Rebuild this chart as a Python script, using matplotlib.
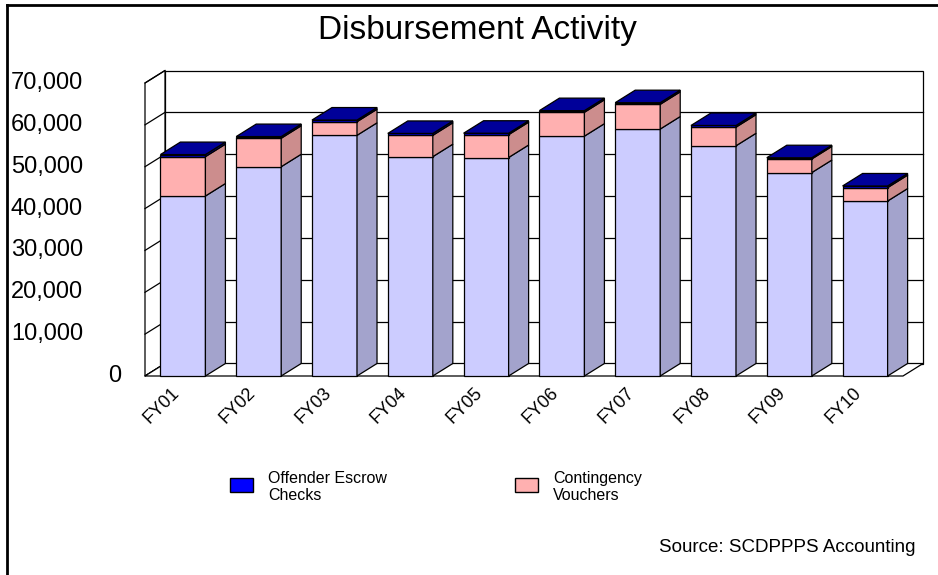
import matplotlib.pyplot as plt
from matplotlib.patches import Polygon, Rectangle
from matplotlib.lines import Line2D

plt.rcParams['font.family'] = ['Liberation Sans', 'DejaVu Sans']

years = ['FY01', 'FY02', 'FY03', 'FY04', 'FY05', 'FY06', 'FY07', 'FY08', 'FY09', 'FY10']
other = [43000, 50000, 57500, 52400, 52200, 57300, 59000, 55000, 48600, 41800]
contingency = [9400, 6800, 3250, 5100, 5450, 5700, 5900, 4450, 3250, 3200]
escrow = [500, 400, 400, 450, 350, 400, 400, 400, 300, 400]
yticks = [0, 10000, 20000, 30000, 40000, 50000, 60000, 70000]

W, H = 938, 575
fig = plt.figure(figsize=(W / 100, H / 100), dpi=100)
ax = fig.add_axes([145 / W, (H - 376) / H, 758 / W, 293 / H])
ax.set_xlim(-0.5, len(years) - 0.5)
ax.set_ylim(0, 70000)
ax.axis('off')

# fake 3d depth, in data units
DX = 20 / 75.8
DY = 12.5 / 293 * 70000
hw = 0.297
x0, x1 = -0.5, len(years) - 0.5
top = yticks[-1]

# back wall + gridlines
ax.add_patch(Rectangle((x0 + DX, DY), x1 - x0, top, fc='white', ec='black', lw=0.9, clip_on=False, zorder=1))
for v in yticks[1:-1]:
    ax.plot([x0 + DX, x1 + DX], [v + DY, v + DY], color='black', lw=0.9, clip_on=False, zorder=1.5)
# left wall
ax.add_patch(Polygon([(x0, 0), (x0 + DX, DY), (x0 + DX, top + DY), (x0, top)],
                     closed=True, fc='white', ec='black', lw=0.9, clip_on=False, zorder=1.6))
for v in yticks:
    ax.plot([x0, x0 + DX], [v, v + DY], color='black', lw=0.9, clip_on=False, zorder=1.7)
# floor
ax.add_patch(Polygon([(x0, 0), (x1, 0), (x1 + DX, DY), (x0 + DX, DY)],
                     closed=True, fc='white', ec='black', lw=0.9, clip_on=False, zorder=1.8))

series = [
    (other, '#CCCCFF', '#A3A3CC'),
    (contingency, '#FFB0B0', '#CC8D8D'),
    (escrow, '#0000CC', '#000099'),
]

for i in range(len(years)):
    bottom = 0
    for vals, front, side in series:
        v = vals[i]
        ax.add_patch(Rectangle((i - hw, bottom), 2 * hw, v, fc=front, ec='black', lw=0.9,
                               clip_on=False, zorder=3))
        ax.add_patch(Polygon([(i + hw, bottom), (i + hw + DX, bottom + DY),
                              (i + hw + DX, bottom + v + DY), (i + hw, bottom + v)],
                             closed=True, fc=side, ec='black', lw=0.9, clip_on=False, zorder=3))
        bottom += v
    ax.add_patch(Polygon([(i - hw, bottom), (i + hw, bottom), (i + hw + DX, bottom + DY),
                          (i - hw + DX, bottom + DY)],
                         closed=True, fc='#000099', ec='black', lw=0.9, clip_on=False, zorder=3))
    ax.text(i - 0.16, -2000, years[i], rotation=45, ha='right', va='top',
            fontsize=13, rotation_mode='anchor', clip_on=False)

for v in yticks:
    if v == 0:
        ax.text(-0.81, v, '0', ha='right', va='center', fontsize=17)
    else:
        ax.text(-1.318, v, f'{v:,}', ha='right', va='center', fontsize=17)

fig.text(477 / W, 1 - 31 / H, 'Disbursement Activity', ha='center', va='center', fontsize=24)

# legend
fig.add_artist(Rectangle((230 / W, 1 - 492 / H), 23 / W, 14 / H, fc='#0000FF', ec='black',
                         lw=1, transform=fig.transFigure))
fig.text(268 / W, 1 - 487 / H, 'Offender Escrow\nChecks', ha='left', va='center',
         fontsize=11.5, linespacing=1.15)
fig.add_artist(Rectangle((515 / W, 1 - 492 / H), 23 / W, 14 / H, fc='#FFB0B0', ec='black',
                         lw=1, transform=fig.transFigure))
fig.text(553 / W, 1 - 487 / H, 'Contingency\nVouchers', ha='left', va='center',
         fontsize=11.5, linespacing=1.15)

fig.text(915 / W, 1 - 548 / H, 'Source: SCDPPPS Accounting', ha='right', va='center', fontsize=13.5)

# page frame
fig.add_artist(Line2D([7 / W, 1], [1 - 5 / H, 1 - 5 / H], color='black', lw=2, transform=fig.transFigure))
fig.add_artist(Line2D([7 / W, 7 / W], [0, 1 - 5 / H], color='black', lw=2, transform=fig.transFigure))

fig.savefig('out.png', dpi=100)
